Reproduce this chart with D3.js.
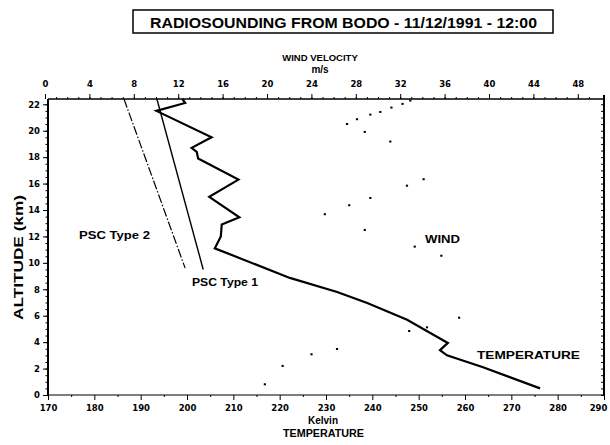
<!DOCTYPE html>
<html>
<head>
<meta charset="utf-8">
<script src="https://cdn.jsdelivr.net/npm/d3@7"></script>
<style>
  body { margin: 0; background: #fff; }
  svg { font-family: "Liberation Sans", Arial, sans-serif; font-weight: bold; }
  .axis path, .axis line { stroke: #000; }
  .axis text { font-family: "DejaVu Sans", sans-serif; font-size: 8.5px; font-weight: bold; fill: #000; }
</style>
</head>
<body>
<div id="chart"></div>
<script>
// temperature profile [kelvin, altitude km]
var tempK   = [199, 199.6, 193.4, 205.3, 201.0, 202.1, 202.4, 211.1, 204.8, 211.3, 207.5, 207.3, 206.0, 222.2, 232.4, 238.9, 247.5, 256.3, 254.6, 256.1, 263.9, 276.2];
var tempAlt = [22.4, 22.1, 21.5, 19.5, 18.7, 18.4, 17.9, 16.3, 15.0, 13.45, 12.9, 12.0, 11.1, 8.86, 7.8, 6.96, 5.7, 3.94, 3.4, 3.0, 2.1, 0.5];

// PSC thresholds [kelvin, altitude]
var psc1K = [193.5, 203.5], psc1Alt = [22.4, 9.5];
var psc2K = [186.4, 199.6], psc2Alt = [22.4, 9.6];

// wind velocity m/s vs altitude
var windV   = [32.9, 32.2, 31.2, 30.2, 29.3, 28.1, 27.2, 28.8, 31.1, 34.1, 32.6, 29.3, 27.4, 25.2, 28.8, 33.3, 35.7, 37.3, 34.4, 32.8, 26.3, 24.0, 21.4, 19.8];
var windAlt = [22.28, 22.03, 21.75, 21.42, 21.22, 20.87, 20.51, 19.91, 19.18, 16.33, 15.84, 14.91, 14.36, 13.68, 12.49, 11.23, 10.54, 5.85, 5.12, 4.84, 3.48, 3.08, 2.2, 0.81];

var tempTicks = d3.range(170, 291, 10);
var windTicks = d3.range(0, 49, 4);
var altTicks  = d3.range(0, 23, 2);

var W = 610, H = 445;
var mLeft = 48, mRight = 604, mTop = 99, mBottom = 395;

var svg = d3.select("#chart").append("svg")
    .attr("width", W).attr("height", H);

var x = d3.scaleLinear().domain([170, 290]).range([mLeft, mRight]);
var xw = d3.scaleLinear().domain([0, 50]).range([45, 600]);
var y = d3.scaleLinear().domain([0, 22.4]).range([mBottom, mTop]);

// title box
svg.append("rect")
    .attr("x", 133).attr("y", 10).attr("width", 420).attr("height", 23)
    .attr("fill", "none").attr("stroke", "#000").attr("stroke-width", 1.5);
svg.append("text")
    .attr("x", 150).attr("y", 28)
    .attr("textLength", 387).attr("lengthAdjust", "spacingAndGlyphs")
    .style("font-size", "14px")
    .text("RADIOSOUNDING FROM BODO - 11/12/1991 - 12:00");

// wind axis title
svg.append("text").attr("x", 320).attr("y", 61).attr("text-anchor", "middle")
    .style("font-size", "9.5px").text("WIND  VELOCITY");
svg.append("text").attr("x", 320).attr("y", 73).attr("text-anchor", "middle")
    .style("font-size", "10px").text("m/s");

// axes
svg.append("g").attr("class", "axis").attr("transform", "translate(0," + mTop + ")")
    .call(d3.axisTop(xw).tickValues(d3.range(0, 50, 1)).tickSize(2).tickFormat(""))
    .call(g => g.select(".domain").remove());
svg.append("g").attr("class", "axis").attr("transform", "translate(0," + mTop + ")")
    .call(d3.axisTop(xw).tickValues(windTicks).tickSize(5).tickPadding(7))
    .call(g => g.select(".domain").remove());

svg.append("g").attr("class", "axis").attr("transform", "translate(0," + mBottom + ")")
    .call(d3.axisBottom(x).tickValues(d3.range(175, 290, 10)).tickSize(2).tickFormat(""))
    .call(g => g.select(".domain").remove());
svg.append("g").attr("class", "axis").attr("transform", "translate(0," + mBottom + ")")
    .call(d3.axisBottom(x).tickValues(tempTicks).tickSize(5).tickPadding(5))
    .call(g => g.select(".domain").remove())
    .call(g => g.selectAll(".tick text").filter(d => d === 290).attr("dx", -6));

svg.append("g").attr("class", "axis").attr("transform", "translate(" + mLeft + ",0)")
    .call(d3.axisLeft(y).tickValues(d3.range(0, 22.4, 0.5)).tickSize(2.5).tickFormat(""))
    .call(g => g.select(".domain").remove());
svg.append("g").attr("class", "axis").attr("transform", "translate(" + mLeft + ",0)")
    .call(d3.axisLeft(y).tickValues(altTicks).tickSize(5).tickPadding(3))
    .call(g => g.select(".domain").remove());

svg.append("g").attr("class", "axis").attr("transform", "translate(" + mRight + ",0)")
    .call(d3.axisRight(y).tickValues(d3.range(0, 22.4, 0.5)).tickSize(-3).tickFormat(""))
    .call(g => g.select(".domain").remove());

// frame
svg.append("line").attr("x1", mLeft).attr("x2", mRight).attr("y1", mTop).attr("y2", mTop)
    .attr("stroke", "#000").attr("stroke-width", 1.5);
svg.append("line").attr("x1", mLeft).attr("x2", mRight).attr("y1", mBottom).attr("y2", mBottom)
    .attr("stroke", "#000").attr("stroke-width", 1.2);
svg.append("line").attr("x1", mLeft).attr("x2", mLeft).attr("y1", mTop).attr("y2", mBottom)
    .attr("stroke", "#000").attr("stroke-width", 2);
svg.append("line").attr("x1", mRight).attr("x2", mRight).attr("y1", mTop - 4).attr("y2", mBottom)
    .attr("stroke", "#000").attr("stroke-width", 2);

// altitude title
svg.append("text")
    .attr("transform", "translate(23,320) rotate(-90)")
    .attr("textLength", 125).attr("lengthAdjust", "spacingAndGlyphs")
    .style("font-size", "13px")
    .text("ALTITUDE (km)");

// bottom titles
svg.append("text").attr("x", 323).attr("y", 424).attr("text-anchor", "middle")
    .style("font-size", "10px").text("Kelvin");
svg.append("text").attr("x", 283).attr("y", 437)
    .attr("textLength", 81).attr("lengthAdjust", "spacingAndGlyphs")
    .style("font-size", "10.5px").text("TEMPERATURE");

var line = d3.line();

svg.append("path")
    .attr("d", line(psc2K.map((t, i) => [x(t), y(psc2Alt[i])])))
    .attr("fill", "none").attr("stroke", "#000").attr("stroke-width", 1.2)
    .attr("stroke-dasharray", "9,2,1.5,2");
svg.append("path")
    .attr("d", line(psc1K.map((t, i) => [x(t), y(psc1Alt[i])])))
    .attr("fill", "none").attr("stroke", "#000").attr("stroke-width", 1.4);

svg.append("path")
    .attr("d", line(tempK.map((t, i) => [x(t), y(tempAlt[i])])))
    .attr("fill", "none").attr("stroke", "#000").attr("stroke-width", 2.2)
    .attr("stroke-linejoin", "miter");

svg.selectAll(".wind")
    .data(windV.map((v, i) => [v, windAlt[i]]))
    .enter().append("rect")
    .attr("class", "wind")
    .attr("x", d => xw(d[0]) - 1).attr("y", d => y(d[1]) - 1)
    .attr("width", 2.2).attr("height", 2)
    .attr("fill", "#000");

// labels [text, x, baseline, width]
var labels = [
    ["PSC Type 2", 79, 239, 71],
    ["PSC Type 1", 192, 286, 66],
    ["WIND", 425, 243, 35],
    ["TEMPERATURE", 477, 359, 103]
];
svg.selectAll(".lbl").data(labels).enter().append("text")
    .attr("class", "lbl")
    .attr("x", d => d[1]).attr("y", d => d[2])
    .attr("textLength", d => d[3]).attr("lengthAdjust", "spacingAndGlyphs")
    .style("font-size", "11px")
    .text(d => d[0]);
</script>
</body>
</html>
